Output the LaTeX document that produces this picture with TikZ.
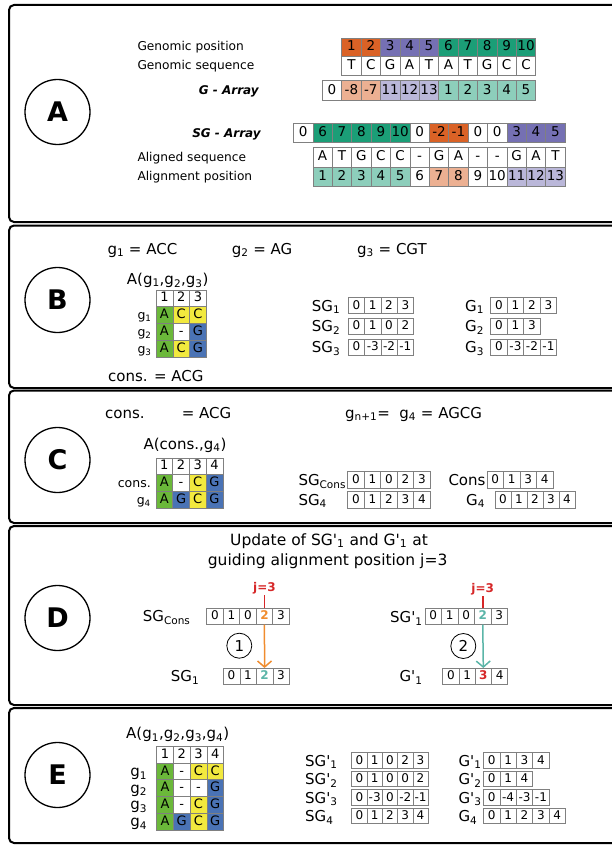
\documentclass[tikz,border=0pt]{standalone}
\usepackage{fontspec}
\setmainfont{DejaVu Sans}[ItalicFont={DejaVu Sans Oblique},BoldItalicFont={DejaVu Sans Bold Oblique},BoldFont={DejaVu Sans Bold}]
\usetikzlibrary{arrows.meta}
\definecolor{dgr}{HTML}{1B9E77}
\definecolor{dor}{HTML}{DA6226}
\definecolor{dpu}{HTML}{7570B3}
\colorlet{lgr}{dgr!50!white}
\colorlet{lor}{dor!50!white}
\colorlet{lpu}{dpu!50!white}
\definecolor{agr}{HTML}{6BB83A}
\definecolor{aye}{HTML}{F2E93E}
\definecolor{abl}{HTML}{4A73B5}
\definecolor{orn}{HTML}{F08C2E}
\definecolor{tea}{HTML}{5BB5A8}
\definecolor{jred}{HTML}{D62728}
\newcommand{\fsz}[1]{\fontsize{#1}{#1}\selectfont}
\newcommand{\qs}{\textquotesingle}
% name, x0, ycenter, width, height, font, list colour/text
\newcommand{\crow}[7]{%
  \foreach \clr/\txt [count=\i from 0] in {#7} {
    \node[cellbox, fill=\clr, minimum width=#4pt, minimum height=#5pt, font=#6] (#1-\i) at ({#2+(\i+0.5)*#4}, #3) {\txt};
  }%
}
\begin{document}
\begin{tikzpicture}[x=1pt,y=-1pt,
  cellbox/.style={draw=black!50, line width=0.6pt, inner sep=0pt, text height=0.73em, text depth=0pt},
  lab/.style={anchor=base west, inner sep=0pt},
  labe/.style={anchor=base east, inner sep=0pt},
  panel/.style={draw=black, line width=2pt, rounded corners=5pt},
  letter/.style={circle, draw=black, line width=1.3pt, minimum size=65pt, inner sep=0pt, font=\fsz{27}\bfseries},
  num/.style={circle, draw=black, line width=0.8pt, minimum size=25pt, inner sep=0pt, font=\fsz{15}},
  jlab/.style={text=jred, font=\fsz{12}\bfseries, inner sep=1pt}
]
\useasboundingbox (0,0) rectangle (612,845);
\begin{scope}
\clip (0,0) rectangle (612,845);
\draw[panel] (9,5) rectangle (640,222);
\draw[panel] (9,225.5) rectangle (640,388);
\draw[panel] (9,390.5) rectangle (640,523);
\draw[panel] (9,526) rectangle (640,705);
\draw[panel] (9,708) rectangle (640,843);
\end{scope}

\node[letter] (cA) at (57.5,112) {A};
\node[letter] (cB) at (57.5,300) {B};
\node[letter] (cC) at (57.5,460) {C};
\node[letter] (cD) at (57.5,618) {D};
\node[letter] (cE) at (57.5,775) {E};

% ---------------- Panel A
\node[lab, font=\fsz{12.2}] (tgp) at (137.3,51) {Genomic position};
\node[lab, font=\fsz{12.2}] (tgs) at (137.3,69.8) {Genomic sequence};
\node[labe, font=\fsz{12}\bfseries\itshape] (tga) at (259,95) {G - Array};
\node[labe, font=\fsz{12}\bfseries\itshape] (tsga) at (261,137.3) {SG - Array};
\node[lab, font=\fsz{12.2}] (tas) at (137.3,161.5) {Aligned sequence};
\node[lab, font=\fsz{12.2}] (tap) at (137.3,180.5) {Alignment position};

\crow{gp}{341.7}{47.3}{19.4}{18}{\fsz{13.5}}{dor/1,dor/2,dpu/3,dpu/4,dpu/5,dgr/6,dgr/7,dgr/8,dgr/9,dgr/10}
\crow{gs}{341.7}{66}{19.4}{19.4}{\fsz{13.5}}{white/T,white/C,white/G,white/A,white/T,white/A,white/T,white/G,white/C,white/C}
\crow{ga}{322.3}{90.4}{19.4}{19.4}{\fsz{13.5}}{white/0,lor/-8,lor/-7,lpu/11,lpu/12,lpu/13,lgr/1,lgr/2,lgr/3,lgr/4,lgr/5}
\crow{sga}{293.5}{132.8}{19.4}{19.4}{\fsz{13.5}}{white/0,dgr/6,dgr/7,dgr/8,dgr/9,dgr/10,white/0,dor/-2,dor/-1,white/0,white/0,dpu/3,dpu/4,dpu/5}
\crow{as}{312.9}{157.2}{19.4}{19.4}{\fsz{13.5}}{white/A,white/T,white/G,white/C,white/C,white/-,white/G,white/A,white/-,white/-,white/G,white/A,white/T}
\crow{ap}{312.9}{176.6}{19.4}{19.4}{\fsz{13.5}}{lgr/1,lgr/2,lgr/3,lgr/4,lgr/5,white/6,lor/7,lor/8,white/9,white/10,lpu/11,lpu/12,lpu/13}

% ---------------- Panel B
\node[lab, font=\fsz{15}] (bg1) at (107.3,254) {g\textsubscript{1} = ACC};
\node[lab, font=\fsz{15}] (bg2) at (231.7,254) {g\textsubscript{2} = AG};
\node[lab, font=\fsz{15}] (bg3) at (357,254) {g\textsubscript{3} = CGT};
\node[lab, font=\fsz{15}] (bA) at (126.7,284.3) {A(g\textsubscript{1},g\textsubscript{2},g\textsubscript{3})};
\crow{bth}{156}{298.2}{16.8}{16.8}{\fsz{13}}{white/1,white/2,white/3}
\crow{btr1}{156}{315}{16.8}{16.8}{\fsz{13}}{agr/A,aye/C,aye/C}
\crow{btr2}{156}{331.8}{16.8}{16.8}{\fsz{13}}{agr/A,white/-,abl/G}
\crow{btr3}{156}{348.6}{16.8}{16.8}{\fsz{13}}{agr/A,aye/C,abl/G}
\node[labe, font=\fsz{12.5}] (brl1) at (151.7,319.6) {g\textsubscript{1}};
\node[labe, font=\fsz{12.5}] (brl2) at (151.7,336.4) {g\textsubscript{2}};
\node[labe, font=\fsz{12.5}] (brl3) at (151.7,353.2) {g\textsubscript{3}};
\node[lab, font=\fsz{15}] (bcons) at (108,381) {cons. = ACG};

\node[lab, font=\fsz{15}] (bsg1) at (311.7,311) {SG\textsubscript{1}};
\node[lab, font=\fsz{15}] (bsg2) at (311.7,331.5) {SG\textsubscript{2}};
\node[lab, font=\fsz{15}] (bsg3) at (311.7,352.5) {SG\textsubscript{3}};
\crow{bs1}{348.3}{305.5}{16.3}{16}{\fsz{12}}{white/0,white/1,white/2,white/3}
\crow{bs2}{348.3}{326}{16.3}{16}{\fsz{12}}{white/0,white/1,white/0,white/2}
\crow{bs3}{348.3}{347}{16.3}{16}{\fsz{12}}{white/0,white/-3,white/-2,white/-1}
\node[lab, font=\fsz{15}] (bgg1) at (465,311) {G\textsubscript{1}};
\node[lab, font=\fsz{15}] (bgg2) at (465,331.5) {G\textsubscript{2}};
\node[lab, font=\fsz{15}] (bgg3) at (465,352.5) {G\textsubscript{3}};
\crow{bG1}{490.7}{305.5}{16.5}{16}{\fsz{12}}{white/0,white/1,white/2,white/3}
\crow{bG2}{490.7}{326}{16.5}{16}{\fsz{12}}{white/0,white/1,white/3}
\crow{bG3}{490.7}{347}{16.5}{16}{\fsz{12}}{white/0,white/-3,white/-2,white/-1}

% ---------------- Panel C
\node[lab, font=\fsz{15}] (ccons) at (105,418.3) {cons.};
\node[lab, font=\fsz{15}] (cacg) at (181.7,418.3) {= ACG};
\node[lab, font=\fsz{15}] (cgn) at (345,418.3) {g\textsubscript{n+1}=\ \ g\textsubscript{4} = AGCG};
\node[lab, font=\fsz{15}] (cA2) at (143.3,449.3) {A(cons.,g\textsubscript{4})};
\crow{cth}{156}{466.2}{16.7}{16.7}{\fsz{13}}{white/1,white/2,white/3,white/4}
\crow{ctr1}{156}{482.9}{16.7}{16.7}{\fsz{13}}{agr/A,white/-,aye/C,abl/G}
\crow{ctr2}{156}{499.6}{16.7}{16.7}{\fsz{13}}{agr/A,abl/G,aye/C,abl/G}
\node[labe, font=\fsz{12.5}] (crl1) at (151,487.5) {cons.};
\node[labe, font=\fsz{12.5}] (crl2) at (151,504) {g\textsubscript{4}};
\node[lab, font=\fsz{15}] (csgc) at (298.3,485.7) {SG\textsubscript{Cons}};
\node[lab, font=\fsz{15}] (csg4) at (298.3,505) {SG\textsubscript{4}};
\crow{csc}{347.7}{480}{16.5}{16.5}{\fsz{12}}{white/0,white/1,white/0,white/2,white/3}
\crow{cs4}{347.7}{499.7}{16.5}{16.5}{\fsz{12}}{white/0,white/1,white/2,white/3,white/4}
\node[lab, font=\fsz{15}] (ccn) at (448.3,485.5) {Cons};
\node[lab, font=\fsz{15}] (cg4) at (466,505) {G\textsubscript{4}};
\crow{cgc}{487}{480}{16.5}{16.5}{\fsz{12}}{white/0,white/1,white/3,white/4}
\crow{cG4}{495}{499.7}{16}{16.5}{\fsz{12}}{white/0,white/1,white/2,white/3,white/4}

% ---------------- Panel D
\node[lab, font=\fsz{15.5}] (dt1) at (230,545) {Update of SG\qs\textsubscript{1} and G\qs\textsubscript{1} at};
\node[lab, font=\fsz{15.5}] (dt2) at (207.7,565) {guiding alignment position j=3};
\node[lab, font=\fsz{15}] (dsgc) at (142.7,621.5) {SG\textsubscript{Cons}};
\node[lab, font=\fsz{15}] (dsg1) at (170.7,681.7) {SG\textsubscript{1}};
\crow{dsc}{206.7}{616.3}{16.5}{16}{\fsz{12}}{white/0,white/1,white/0,white/{\bfseries\color{orn}2},white/3}
\crow{ds1}{223.3}{676.3}{16.5}{16}{\fsz{12}}{white/0,white/1,white/{\bfseries\color{tea}2},white/3}
\node[jlab] (j1) at (264.45,588.3) {j=3};
\draw[jred, line width=1.8pt] (j1.south) -- (dsc-3.north);
\draw[orn, line width=1.5pt, -{Straight Barb[length=6pt,width=14pt]}] (dsc-3.south) -- (ds1-2.north);
\node[num] (n1) at (239.3,645.7) {1};

\node[lab, font=\fsz{15}] (dsgp) at (390,622.3) {SG\qs\textsubscript{1}};
\node[lab, font=\fsz{15}] (dgp) at (399.3,681.7) {G\qs\textsubscript{1}};
\crow{dsp}{425}{616.3}{16.5}{16}{\fsz{12}}{white/0,white/1,white/0,white/{\bfseries\color{tea}2},white/3}
\crow{dgg}{442.7}{676.3}{16.25}{16}{\fsz{12}}{white/0,white/1,white/{\bfseries\color{jred}3},white/4}
\node[jlab] (j2) at (482.75,589.3) {j=3};
\draw[jred, line width=1.8pt] (j2.south) -- (dsp-3.north);
\draw[tea, line width=1.5pt, -{Straight Barb[length=6pt,width=14pt]}] (dsp-3.south) -- (dgg-2.north);
\node[num] (n2) at (463.3,646) {2};

% ---------------- Panel E
\node[lab, font=\fsz{15}] (eA) at (126,738.3) {A(g\textsubscript{1},g\textsubscript{2},g\textsubscript{3},g\textsubscript{4})};
\crow{eth}{156.7}{754.7}{16.7}{16.7}{\fsz{13}}{white/1,white/2,white/3,white/4}
\crow{etr1}{156.7}{771.4}{16.7}{16.7}{\fsz{13}}{agr/A,white/-,aye/C,aye/C}
\crow{etr2}{156.7}{788.1}{16.7}{16.7}{\fsz{13}}{agr/A,white/-,white/-,abl/G}
\crow{etr3}{156.7}{804.8}{16.7}{16.7}{\fsz{13}}{agr/A,white/-,aye/C,abl/G}
\crow{etr4}{156.7}{821.5}{16.7}{16.7}{\fsz{13}}{agr/A,abl/G,aye/C,abl/G}
\node[labe, font=\fsz{15}] (erl1) at (147.3,776.4) {g\textsubscript{1}};
\node[labe, font=\fsz{15}] (erl2) at (147.3,793.1) {g\textsubscript{2}};
\node[labe, font=\fsz{15}] (erl3) at (147.3,809.8) {g\textsubscript{3}};
\node[labe, font=\fsz{15}] (erl4) at (147.3,826.5) {g\textsubscript{4}};

\node[lab, font=\fsz{15}] (esg1) at (305,766) {SG\qs\textsubscript{1}};
\node[lab, font=\fsz{15}] (esg2) at (305,784.5) {SG\qs\textsubscript{2}};
\node[lab, font=\fsz{15}] (esg3) at (305,803) {SG\qs\textsubscript{3}};
\node[lab, font=\fsz{15}] (esg4) at (305,821.5) {SG\textsubscript{4}};
\crow{es1}{351.7}{760.5}{15.3}{15.5}{\fsz{12}}{white/0,white/1,white/0,white/2,white/3}
\crow{es2}{351.7}{779}{15.3}{15.5}{\fsz{12}}{white/0,white/1,white/0,white/0,white/2}
\crow{es3}{351.7}{797.5}{15.3}{15.5}{\fsz{12}}{white/0,white/-3,white/0,white/-2,white/-1}
\crow{es4}{351.7}{816}{15.3}{15.5}{\fsz{12}}{white/0,white/1,white/2,white/3,white/4}
\node[lab, font=\fsz{15}] (eg1) at (458.3,766) {G\qs\textsubscript{1}};
\node[lab, font=\fsz{15}] (eg2) at (458.3,784.5) {G\qs\textsubscript{2}};
\node[lab, font=\fsz{15}] (eg3) at (458.3,803) {G\qs\textsubscript{3}};
\node[lab, font=\fsz{15}] (eg4) at (458.3,821.5) {G\textsubscript{4}};
\crow{eG1}{483.5}{760.5}{16.4}{15.5}{\fsz{12}}{white/0,white/1,white/3,white/4}
\crow{eG2}{483.5}{779}{16.4}{15.5}{\fsz{12}}{white/0,white/1,white/4}
\crow{eG3}{483.5}{797.5}{16.4}{15.5}{\fsz{12}}{white/0,white/-4,white/-3,white/-1}
\crow{eG4}{483.5}{816}{16.4}{15.5}{\fsz{12}}{white/0,white/1,white/2,white/3,white/4}
\end{tikzpicture}
\end{document}
